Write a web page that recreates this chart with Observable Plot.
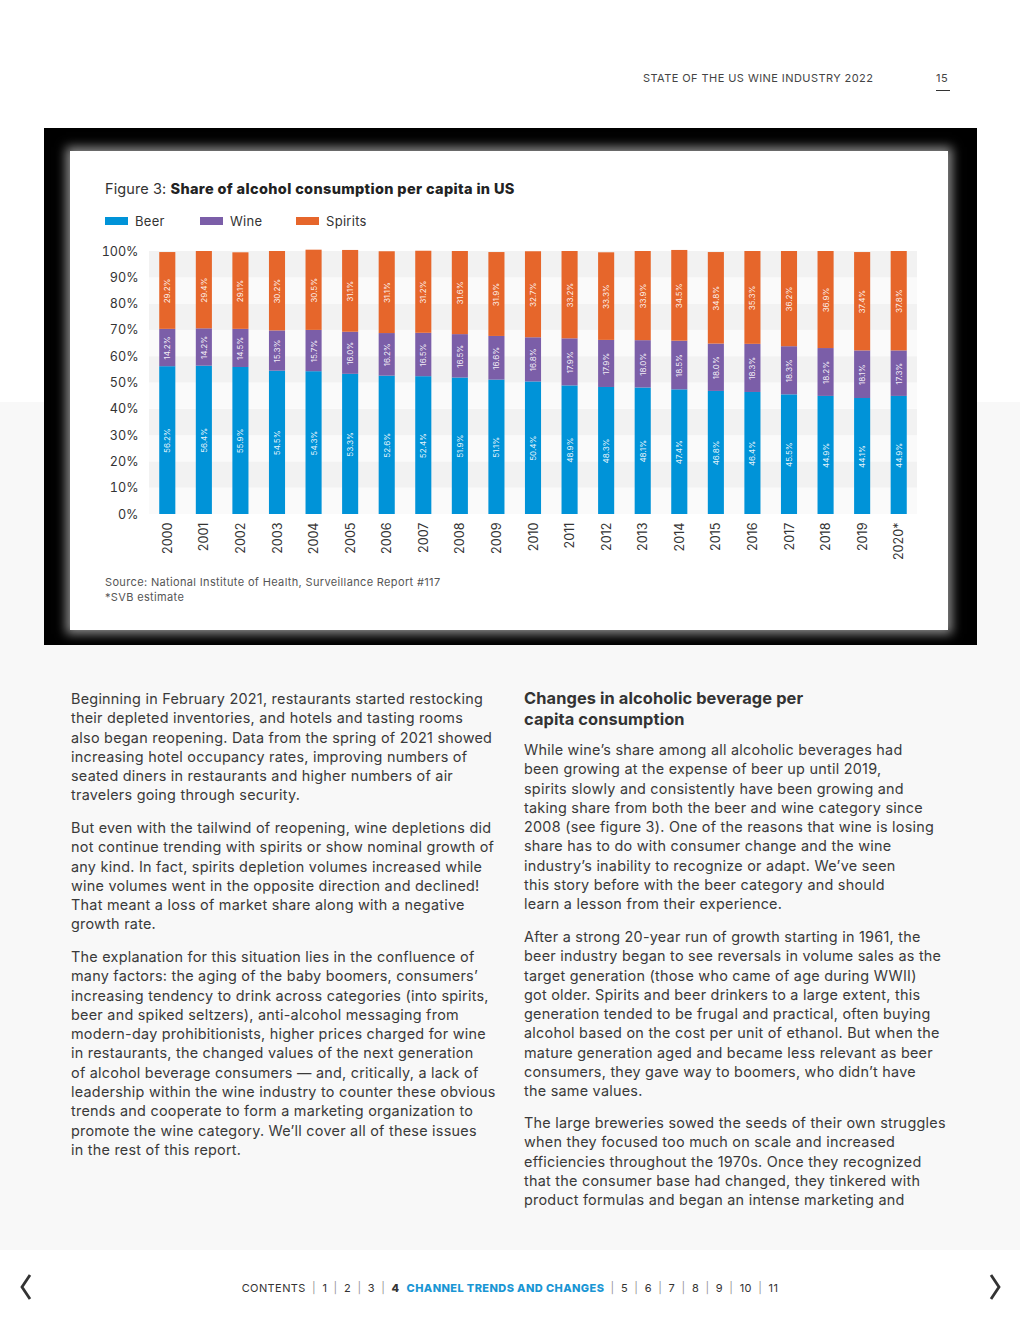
<!DOCTYPE html>
<html>
<head>
<meta charset="utf-8">
<script src="https://cdn.jsdelivr.net/npm/d3@7"></script>
<script src="https://cdn.jsdelivr.net/npm/@observablehq/plot@0.6"></script>
<style>
  html, body { margin: 0; padding: 0; background: #fff; }
  #page { position: relative; width: 1020px; height: 1320px; overflow: hidden; font-family: Inter, "Noto Sans", sans-serif; color: #333; }
  .abs { position: absolute; white-space: nowrap; }
  #grey { position: absolute; left: 0; top: 402px; width: 1020px; height: 848px; background: #f8f8f8; }
  #frame { position: absolute; left: 44px; top: 128px; width: 933px; height: 517px; background: #000; }
  #card { position: absolute; left: 70px; top: 151px; width: 878px; height: 479px; background: #fff; box-shadow: 0 0 10px 4px rgba(255,255,255,0.55); }
  .body { font-size: 14.4px; line-height: 19.3px; color: #3a3a3a; letter-spacing: 0.25px; }
  .head { font-size: 16.4px; line-height: 21px; font-weight: 700; color: #333; letter-spacing: 0.1px; }
  .sw { display: inline-block; width: 23px; height: 8px; vertical-align: middle; margin-right: 7px; position: relative; top: -1px; }
  .sep { color: #999; margin: 0 6.3px; }
</style>
</head>
<body>
<div id="page">
  <div id="grey"></div>

  <div class="abs" style="left:643px; top:71px; font-size:11px; letter-spacing:0.43px; color:#444;">STATE OF THE US WINE INDUSTRY 2022</div>
  <div class="abs" style="left:936px; top:71px; font-size:11px; color:#444; letter-spacing:0.5px;">15</div>
  <div class="abs" style="left:936px; top:90px; width:14px; height:1px; background:#333;"></div>

  <div id="frame"></div>
  <div id="card">
    <div class="abs" style="left:35px; top:29px; font-size:14.5px; color:#333; letter-spacing:0.1px;">Figure 3: <b style="font-weight:800; color:#222; letter-spacing:0.35px;">Share of alcohol consumption per capita in US</b></div>
    <div class="abs" id="legend" style="left:35px; top:62px; font-size:13px; color:#333; letter-spacing:0.3px;"></div>
    <div id="chart" class="abs" style="left:0; top:89px;"></div>
    <div class="abs" style="left:35px; top:424px; font-size:11px; line-height:15px; color:#555; letter-spacing:0.35px;">Source: National Institute of Health, Surveillance Report #117<br>*SVB estimate</div>
  </div>

  <div class="abs body" style="left:71px; top:689px;">Beginning in February 2021, restaurants started restocking<br>their depleted inventories, and hotels and tasting rooms<br>also began reopening. Data from the spring of 2021 showed<br>increasing hotel occupancy rates, improving numbers of<br>seated diners in restaurants and higher numbers of air<br>travelers going through security.</div>
  <div class="abs body" style="left:71px; top:818px;">But even with the tailwind of reopening, wine depletions did<br>not continue trending with spirits or show nominal growth of<br>any kind. In fact, spirits depletion volumes increased while<br>wine volumes went in the opposite direction and declined!<br>That meant a loss of market share along with a negative<br>growth rate.</div>
  <div class="abs body" style="left:71px; top:947px;">The explanation for this situation lies in the confluence of<br>many factors: the aging of the baby boomers, consumers’<br>increasing tendency to drink across categories (into spirits,<br>beer and spiked seltzers), anti-alcohol messaging from<br>modern-day prohibitionists, higher prices charged for wine<br>in restaurants, the changed values of the next generation<br>of alcohol beverage consumers — and, critically, a lack of<br>leadership within the wine industry to counter these obvious<br>trends and cooperate to form a marketing organization to<br>promote the wine category. We’ll cover all of these issues<br>in the rest of this report.</div>

  <div class="abs head" style="left:524px; top:688px;">Changes in alcoholic beverage per<br>capita consumption</div>
  <div class="abs body" style="left:524px; top:740px;">While wine’s share among all alcoholic beverages had<br>been growing at the expense of beer up until 2019,<br>spirits slowly and consistently have been growing and<br>taking share from both the beer and wine category since<br>2008 (see figure 3). One of the reasons that wine is losing<br>share has to do with consumer change and the wine<br>industry’s inability to recognize or adapt. We’ve seen<br>this story before with the beer category and should<br>learn a lesson from their experience.</div>
  <div class="abs body" style="left:524px; top:927px;">After a strong 20-year run of growth starting in 1961, the<br>beer industry began to see reversals in volume sales as the<br>target generation (those who came of age during WWII)<br>got older. Spirits and beer drinkers to a large extent, this<br>generation tended to be frugal and practical, often buying<br>alcohol based on the cost per unit of ethanol. But when the<br>mature generation aged and became less relevant as beer<br>consumers, they gave way to boomers, who didn’t have<br>the same values.</div>
  <div class="abs body" style="left:524px; top:1113px;">The large breweries sowed the seeds of their own struggles<br>when they focused too much on scale and increased<br>efficiencies throughout the 1970s. Once they recognized<br>that the consumer base had changed, they tinkered with<br>product formulas and began an intense marketing and</div>

  <div class="abs" style="left:0; width:1020px; top:1281px; text-align:center; font-size:11px; letter-spacing:0.4px; color:#333;">CONTENTS<span class="sep">|</span>1<span class="sep">|</span>2<span class="sep">|</span>3<span class="sep">|</span><b style="font-weight:800;">4</b>&nbsp;&nbsp;<b style="font-weight:800; color:#1a96d4;">CHANNEL TRENDS AND CHANGES</b><span class="sep">|</span>5<span class="sep">|</span>6<span class="sep">|</span>7<span class="sep">|</span>8<span class="sep">|</span>9<span class="sep">|</span>10<span class="sep">|</span>11</div>
  <svg class="abs" style="left:15px; top:1273px;" width="22" height="28"><path d="M15 2 L7 14 L15 26" fill="none" stroke="#333" stroke-width="2.8"/></svg>
  <svg class="abs" style="left:984px; top:1273px;" width="22" height="28"><path d="M7 2 L15 14 L7 26" fill="none" stroke="#333" stroke-width="2.8"/></svg>
</div>

<script>
const years = ["2000","2001","2002","2003","2004","2005","2006","2007","2008","2009","2010","2011","2012","2013","2014","2015","2016","2017","2018","2019","2020*"];
const beer    = [56.2,56.4,55.9,54.5,54.3,53.3,52.6,52.4,51.9,51.1,50.4,48.9,48.3,48.1,47.4,46.8,46.4,45.5,44.9,44.1,44.9];
const wine    = [14.2,14.2,14.5,15.3,15.7,16.0,16.2,16.5,16.5,16.6,16.8,17.9,17.9,18.0,18.5,18.0,18.3,18.3,18.2,18.1,17.3];
const spirits = [29.2,29.4,29.1,30.2,30.5,31.1,31.1,31.2,31.6,31.9,32.7,33.2,33.3,33.9,34.5,34.8,35.3,36.2,36.9,37.4,37.8];
const types = ["Beer","Wine","Spirits"];
const colors = ["#0093d8","#7b5ea8","#e6662b"];
const yTicks = [0,10,20,30,40,50,60,70,80,90,100];

const series = [beer, wine, spirits];
const data = years.flatMap((yr, i) => types.map((t, k) => ({year: yr, type: t, value: series[k][i]})));
const bands = yTicks.slice(0, -1);

const legend = document.getElementById("legend");
legend.innerHTML = types.map((t, k) =>
  `<span style="display:inline-block; width:${[95,96,80][k]}px;"><span class="sw" style="background:${colors[k]}"></span>${t}</span>`).join("");

const chart = Plot.plot({
  width: 878,
  height: 330,
  marginLeft: 79,
  marginRight: 31,
  marginTop: 11,
  marginBottom: 56,
  style: {fontFamily: "Inter, 'Noto Sans', sans-serif", fontSize: "12.6px", color: "#333", background: "transparent"},
  x: {domain: years, paddingInner: 0.56, paddingOuter: 0.28, round: false, label: null, tickRotate: -90, tickSize: 0, tickPadding: 8},
  y: {domain: [0, 100], ticks: yTicks, tickFormat: d => d + "%", label: null, tickSize: 0, tickPadding: 11},
  color: {domain: types, range: colors},
  marks: [
    Plot.rect(bands, {y1: d => d, y2: d => d + 10, fill: d => (d / 10) % 2 === 1 ? "#f2f2f2" : "#fafafa"}),
    Plot.barY(data, {x: "year", y: "value", fill: "type", order: types}),
    Plot.text(data, Plot.stackY({x: "year", y: "value", z: "type", order: types,
      text: d => d.value.toFixed(1) + "%", rotate: -90, fill: "white", fillOpacity: 0.92,
      fontSize: 8, style: "letter-spacing:0.9px"}))
  ]
});
document.getElementById("chart").appendChild(chart);
</script>
</body>
</html>
